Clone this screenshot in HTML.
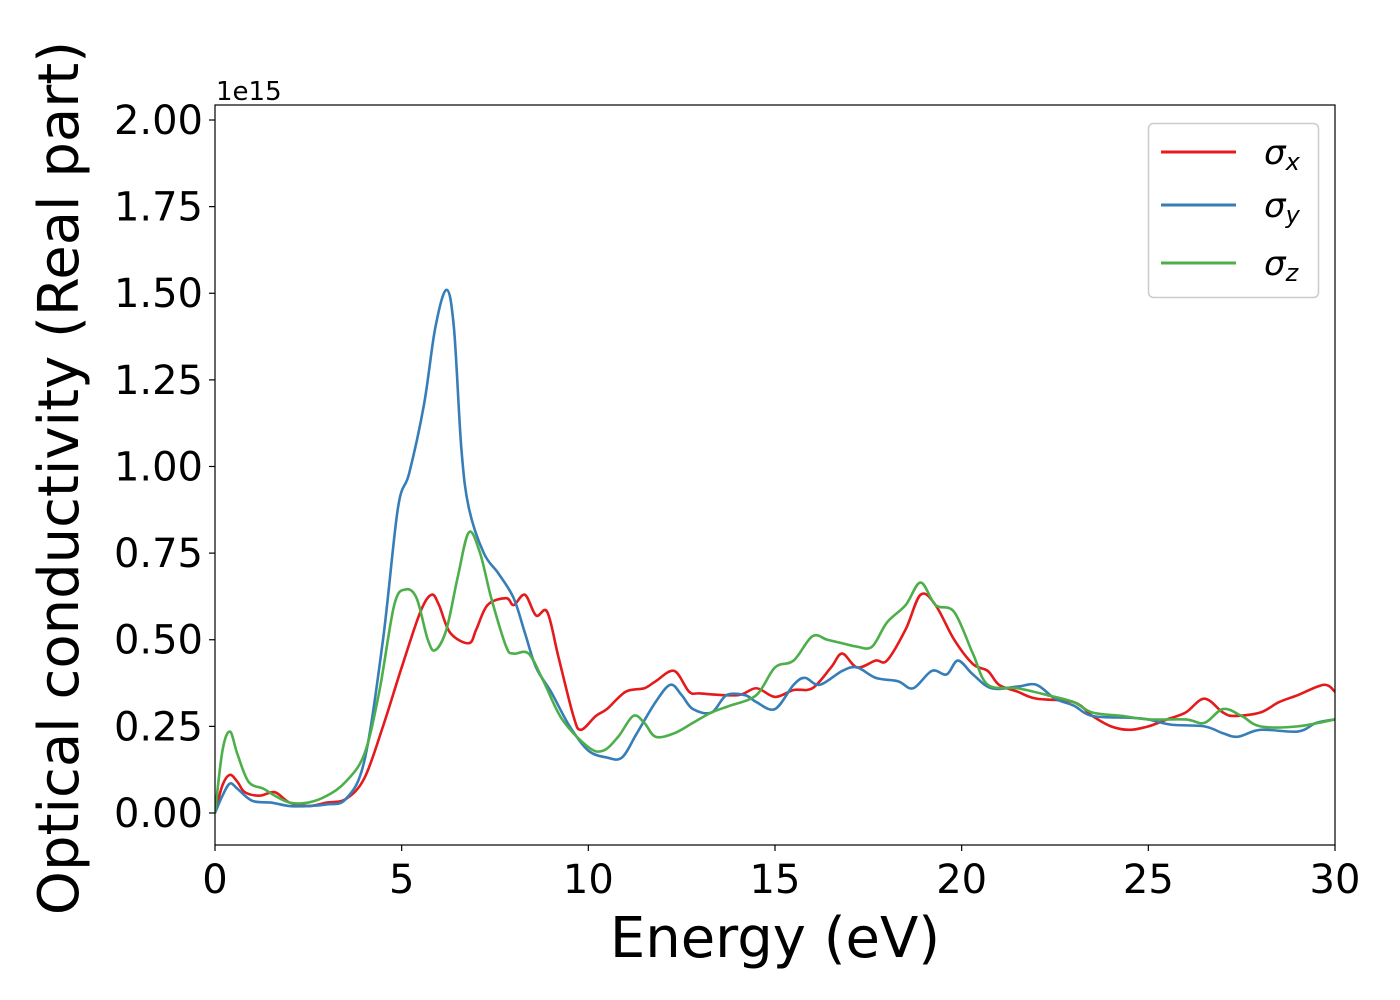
<!DOCTYPE html>
<html><head><meta charset="utf-8"><style>
body{margin:0;background:#fff;}
svg{display:block;font-family:"DejaVu Sans","Liberation Sans",sans-serif;}
</style></head><body>
<svg id="chart" width="1400" height="1000">
<rect x="0" y="0" width="1400" height="1000" fill="#fff"/>
<g id="plot"></g>
<g id="axes"></g>
<text x="216" y="100" font-size="26">1e15</text>
<text x="775" y="957" font-size="56" text-anchor="middle">Energy (eV)</text>
<text transform="translate(78,478) rotate(-90)" font-size="56" text-anchor="middle">Optical conductivity (Real part)</text>
<g>
<rect x="1148.5" y="123.5" width="170" height="174" rx="5" fill="#fff" fill-opacity="0.8" stroke="#ccc" stroke-width="1.5"/>
<line x1="1161" y1="152" x2="1236" y2="152" stroke="#e41a1c" stroke-width="3"/>
<line x1="1161" y1="205" x2="1236" y2="205" stroke="#377eb8" stroke-width="3"/>
<line x1="1161" y1="263" x2="1236" y2="263" stroke="#4daf4a" stroke-width="3"/>
<text x="1264" y="164" font-size="34" font-style="italic">σ<tspan font-size="24" dy="6">x</tspan></text>
<text x="1264" y="217" font-size="34" font-style="italic">σ<tspan font-size="24" dy="6">y</tspan></text>
<text x="1264" y="275" font-size="34" font-style="italic">σ<tspan font-size="24" dy="6">z</tspan></text>
</g>
</svg>
<script>
const xTicks=[0,5,10,15,20,25,30];
const yTicks=[0,0.25,0.5,0.75,1.0,1.25,1.5,1.75,2.0];
const yTickLabels=["0.00","0.25","0.50","0.75","1.00","1.25","1.50","1.75","2.00"];
const xE=[0,0.2,0.4,0.6,0.8,1.2,1.6,2,2.5,3,3.5,4,4.5,5,5.5,5.8,6,6.3,6.8,7,7.3,7.8,8,8.3,8.6,8.9,9.2,9.6,9.8,10.2,10.5,11,11.5,11.8,12.3,12.7,13,14,14.5,15,15.5,16,16.5,16.8,17.2,17.7,18,18.5,18.9,19.3,19.8,20.3,20.7,21,21.5,22,23,23.5,24,24.5,25,25.5,26,26.5,27,27.3,28,28.5,29,29.7,30];
const xV=[0,0.08,0.11,0.09,0.06,0.05,0.06,0.03,0.02,0.03,0.04,0.1,0.25,0.42,0.58,0.63,0.6,0.52,0.49,0.53,0.6,0.62,0.6,0.63,0.57,0.58,0.45,0.28,0.24,0.28,0.3,0.35,0.36,0.38,0.41,0.35,0.345,0.34,0.36,0.335,0.355,0.36,0.42,0.46,0.42,0.44,0.44,0.53,0.63,0.6,0.5,0.43,0.41,0.37,0.35,0.33,0.32,0.28,0.25,0.24,0.25,0.27,0.29,0.33,0.29,0.28,0.29,0.32,0.34,0.37,0.35];
const yE=[0,0.2,0.4,0.6,1,1.5,2,2.5,3,3.5,4,4.5,4.9,5.2,5.6,5.9,6.2,6.4,6.6,6.8,7.2,7.6,8,8.3,8.6,9,9.5,10,10.5,10.9,11.3,11.8,12.2,12.5,12.8,13.3,13.7,14.2,14.5,15,15.5,15.8,16.2,16.8,17.2,17.7,18.3,18.7,19.2,19.6,19.9,20.3,20.8,21.5,22,22.5,23,23.5,24.5,25,25.6,26.5,27,27.4,28,29,29.5,30];
const yV=[0,0.05,0.085,0.07,0.035,0.03,0.02,0.02,0.025,0.04,0.15,0.5,0.88,0.98,1.18,1.4,1.51,1.4,1.05,0.88,0.75,0.69,0.62,0.52,0.42,0.35,0.25,0.18,0.16,0.16,0.23,0.32,0.37,0.34,0.3,0.29,0.34,0.34,0.32,0.3,0.37,0.39,0.37,0.41,0.42,0.39,0.38,0.36,0.41,0.4,0.44,0.4,0.36,0.365,0.37,0.33,0.31,0.28,0.275,0.27,0.255,0.25,0.23,0.22,0.24,0.235,0.26,0.27];
const zE=[0,0.2,0.4,0.6,0.9,1.3,1.6,2,2.5,3,3.5,4,4.4,4.8,5.1,5.4,5.7,5.9,6.2,6.5,6.8,7.1,7.4,7.8,8,8.4,8.8,9.3,10,10.4,10.8,11.2,11.5,11.8,12.3,12.8,13.3,13.8,14.5,15,15.5,16,16.4,16.8,17.2,17.6,18,18.5,18.9,19.3,19.8,20.3,20.7,21.5,22.3,23,23.5,24.3,25,26,26.5,27,27.5,28,29,30];
const zV=[0,0.18,0.235,0.17,0.09,0.07,0.05,0.03,0.03,0.05,0.09,0.17,0.35,0.6,0.645,0.62,0.5,0.47,0.53,0.68,0.81,0.75,0.62,0.48,0.46,0.46,0.38,0.27,0.19,0.18,0.22,0.28,0.26,0.22,0.23,0.26,0.29,0.31,0.34,0.42,0.44,0.51,0.5,0.49,0.48,0.48,0.55,0.6,0.665,0.6,0.58,0.46,0.37,0.36,0.34,0.32,0.29,0.28,0.27,0.27,0.26,0.3,0.28,0.25,0.25,0.27];
const L=215,R=1335,T=105,B=845,xmin=0,xmax=30,ymin=-0.0924,ymax=2.0433;
const sx=v=>L+(v-xmin)/(xmax-xmin)*(R-L);
const sy=v=>B-(v-ymin)/(ymax-ymin)*(B-T);
const NS="http://www.w3.org/2000/svg";
const plot=document.getElementById('plot'),axes=document.getElementById('axes');
function mk(tag,attrs,parent){const e=document.createElementNS(NS,tag);for(const k in attrs)e.setAttribute(k,attrs[k]);parent.appendChild(e);return e;}
const clip=mk('clipPath',{id:'clip'},plot);mk('rect',{x:L,y:T,width:R-L,height:B-T},clip);
function pathFor(E,V){const p=E.map((e,i)=>[sx(e),sy(V[i])]);let d=`M${p[0][0]},${p[0][1]}`;
for(let i=0;i<p.length-1;i++){const p0=p[Math.max(0,i-1)],p1=p[i],p2=p[i+1],p3=p[Math.min(p.length-1,i+2)];
const c1x=p1[0]+(p2[0]-p0[0])/6,c1y=p1[1]+(p2[1]-p0[1])/6,c2x=p2[0]-(p3[0]-p1[0])/6,c2y=p2[1]-(p3[1]-p1[1])/6;
d+=` C${c1x},${c1y} ${c2x},${c2y} ${p2[0]},${p2[1]}`;}return d;}
const series=[[xE,xV,'#e41a1c','series-sigma-x'],[yE,yV,'#377eb8','series-sigma-y'],[zE,zV,'#4daf4a','series-sigma-z']];
series.forEach(s=>{const el=mk('path',{d:pathFor(s[0],s[1]),fill:'none',stroke:s[2],'stroke-width':2.6,'clip-path':'url(#clip)'},plot);

});
const fr=mk('rect',{x:L,y:T,width:R-L,height:B-T,fill:'none',stroke:'#000','stroke-width':1.2},axes);


xTicks.forEach(t=>{const x=sx(t);mk('line',{x1:x,y1:B,x2:x,y2:B+6,stroke:'#000','stroke-width':1.2},axes);
const tx=mk('text',{x:x,y:B+48,'font-size':40,'text-anchor':'middle'},axes);tx.textContent=t;

});
yTicks.forEach((t,i)=>{const y=sy(t);mk('line',{x1:L-6,y1:y,x2:L,y2:y,stroke:'#000','stroke-width':1.2},axes);
const tx=mk('text',{x:L-12,y:y+14,'font-size':40,'text-anchor':'end'},axes);tx.textContent=yTickLabels[i];

});
</script>
</body></html>
